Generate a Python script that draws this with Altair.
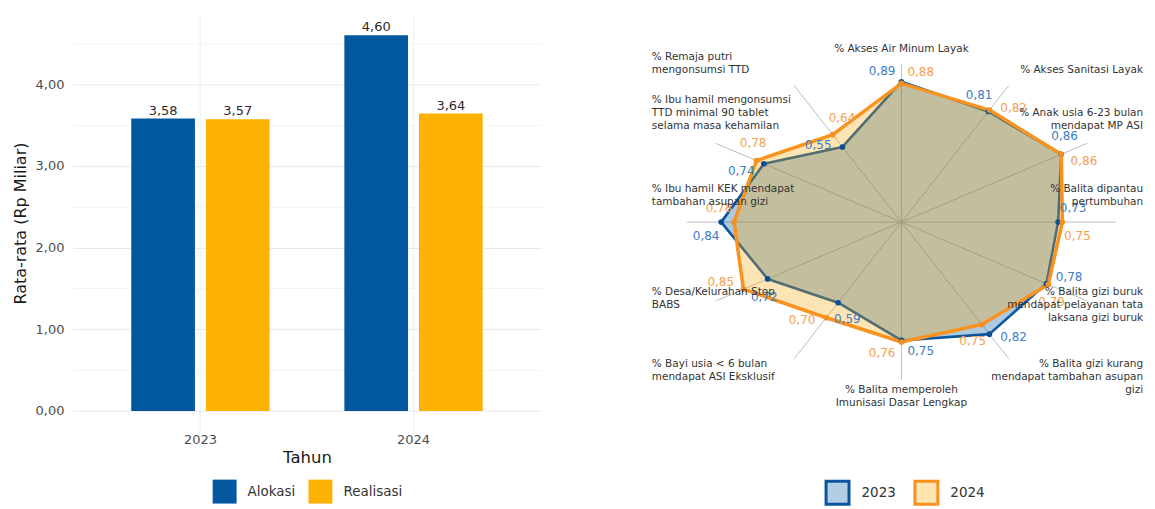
import altair as alt
import pandas as pd

FONT = "DejaVu Sans"

# ---------------- data: bar chart ----------------
years = ["2023", "2024"]
series = ["Alokasi", "Realisasi"]
alokasi = [3.58, 4.60]
realisasi = [3.57, 3.64]
y_ticks = [0, 0.5, 1.0, 1.5, 2.0, 2.5, 3.0, 3.5, 4.0, 4.5]

# ---------------- data: radar chart ----------------
indicators = [
    "% Akses Air Minum Layak",
    "% Akses Sanitasi Layak",
    "% Anak usia 6-23 bulan\nmendapat MP ASI",
    "% Balita dipantau\npertumbuhan",
    "% Balita gizi buruk\nmendapat pelayanan tata\nlaksana gizi buruk",
    "% Balita gizi kurang\nmendapat tambahan asupan\ngizi",
    "% Balita memperoleh\nImunisasi Dasar Lengkap",
    "% Bayi usia < 6 bulan\nmendapat ASI Eksklusif",
    "% Desa/Kelurahan Stop\nBABS",
    "% Ibu hamil KEK mendapat\ntambahan asupan gizi",
    "% Ibu hamil mengonsumsi\nTTD minimal 90 tablet\nselama masa kehamilan",
    "% Remaja putri\nmengonsumsi TTD",
]
nilai_2023 = [0.89, 0.81, 0.86, 0.73, 0.78, 0.82, 0.75, 0.59, 0.72, 0.84, 0.74, 0.55]
nilai_2024 = [0.88, 0.82, 0.86, 0.75, 0.79, 0.75, 0.76, 0.70, 0.85, 0.78, 0.78, 0.64]

# ---------------- tables ----------------
bar_rows = []
for i, t in enumerate(years):
    bar_rows.append({"tahun": t, "jenis": series[0], "nilai": alokasi[i]})
    bar_rows.append({"tahun": t, "jenis": series[1], "nilai": realisasi[i]})
bar_df = pd.DataFrame(bar_rows)

n = len(indicators)
radar_rows = []
for t, vals in zip(years, [nilai_2023, nilai_2024]):
    for k in range(n + 1):
        radar_rows.append({"tahun": t, "idx": k, "nilai": vals[k % n], "label": indicators[k % n]})
radar_df = pd.DataFrame(radar_rows)

# ---------------- bar chart ----------------
BLUE_BAR = "#02589E"
GOLD_BAR = "#FDB100"

x_bar = alt.X(
    "tahun:N", title="Tahun",
    scale=alt.Scale(paddingInner=0.351, paddingOuter=0.274),
    axis=alt.Axis(labelAngle=0, ticks=False, domain=False, grid=True, bandPosition=0.5,
                  gridColor="#ebebeb", gridWidth=1, labelFontSize=13, labelColor="#4d4d4d",
                  labelPadding=4, titleFontSize=16.5, titleColor="#1a1a1a",
                  titleFontWeight="normal", titlePadding=3, labelFont=FONT, titleFont=FONT),
)
xoff_bar = alt.XOffset("jenis:N", sort=series, scale=alt.Scale(paddingInner=0.147, paddingOuter=0))
y_bar = alt.Y(
    "nilai:Q", title="Rata-rata (Rp Miliar)",
    scale=alt.Scale(domain=[-0.23, 4.83], nice=False, zero=False),
    axis=alt.Axis(values=y_ticks, ticks=False, domain=False,
                  labelExpr="datum.value % 1 == 0 ? replace(format(datum.value, '.2f'), '.', ',') : ''",
                  gridColor={"condition": {"test": "datum.value % 1 == 0", "value": "#e9e9e9"},
                             "value": "#f4f4f4"},
                  labelFontSize=13, labelColor="#4d4d4d", labelPadding=9,
                  titleFontSize=16, titleColor="#1a1a1a", titleFontWeight="normal",
                  titlePadding=7, labelFont=FONT, titleFont=FONT),
)

bar_base = alt.Chart(bar_df).transform_calculate(
    lbl="replace(format(datum.nilai, '.2f'), '.', ',')"
)
bars = bar_base.mark_bar().encode(
    x=x_bar, xOffset=xoff_bar, y=y_bar, y2=alt.datum(0),
    color=alt.Color("jenis:N", sort=series,
                    scale=alt.Scale(domain=series, range=[BLUE_BAR, GOLD_BAR]),
                    legend=alt.Legend(title=None, orient="none", legendX=140, legendY=464,
                                      direction="horizontal", symbolType="square",
                                      symbolSize=576, symbolStrokeWidth=0,
                                      labelFontSize=13.5, labelColor="#333333", labelFont=FONT,
                                      labelOffset=11, columnPadding=13)),
)
bar_text = bar_base.mark_text(dy=-4, baseline="alphabetic", fontSize=13, color="#2b2b2b",
                              font=FONT).encode(
    x=x_bar, xOffset=xoff_bar, y=y_bar, text="lbl:N"
)
bar_chart = alt.layer(bars, bar_text).properties(width=469, height=414)

# ---------------- radar chart ----------------
BLUE_L = "#0B559F"
ORANGE_L = "#F7931E"
xs = alt.Scale(domain=[-1.1814, 1.1442], nice=False, zero=False)
ys = alt.Scale(domain=[-1.316, 1.304], nice=False, zero=False)

base = alt.Chart(radar_df).transform_calculate(
    ang="datum.idx * PI / 6",
    px="datum.nilai * sin(datum.ang)",
    py="datum.nilai * cos(datum.ang)",
    sx="sin(datum.ang)",
    sy="cos(datum.ang)",
    cx="0 * datum.nilai",
    nl="length(split(datum.label, '\\n'))",
)
X = alt.X("px:Q", scale=xs, axis=None)
Y = alt.Y("py:Q", scale=ys, axis=None)

spokes = base.transform_filter("datum.tahun == '2023' && datum.idx < 12").mark_rule(
    color="#bdbdbd", strokeWidth=1
).encode(
    x=alt.X("cx:Q", scale=xs, axis=None), y=alt.Y("cx:Q", scale=ys, axis=None),
    x2="sx:Q", y2="sy:Q",
)

def poly_fill(year, col, op):
    return base.transform_filter(f"datum.tahun == '{year}'").mark_line(
        filled=True, fill=col, fillOpacity=op, strokeWidth=0, interpolate="linear"
    ).encode(x=X, y=Y, order="idx:Q")

def poly_line(year, col, w):
    return base.transform_filter(f"datum.tahun == '{year}'").mark_line(
        color=col, strokeWidth=w, strokeJoin="round"
    ).encode(x=X, y=Y, order="idx:Q")

legend_radar = alt.Legend(title=None, orient="none", legendX=177, legendY=464,
                          direction="horizontal", symbolType="square", symbolSize=529,
                          symbolStrokeWidth=3, symbolOpacity=1, labelFontSize=13.5,
                          labelColor="#333333", labelFont=FONT, labelOffset=11, columnPadding=12)
legend_layer = base.transform_filter("datum.idx < 12").mark_square(
    size=2, strokeWidth=0.5, opacity=1
).encode(
    x=X, y=Y,
    fill=alt.Fill("tahun:N", scale=alt.Scale(domain=years, range=["#B3CDE4", "#FDE4B0"]),
                  legend=legend_radar),
    stroke=alt.Stroke("tahun:N", scale=alt.Scale(domain=years, range=[BLUE_L, ORANGE_L]),
                      legend=legend_radar),
)

def pts(year, col):
    return base.transform_filter(f"datum.tahun == '{year}' && datum.idx < 12").mark_circle(
        size=32, color=col, opacity=1
    ).encode(x=X, y=Y)

def vlabels(year, col, sgn):
    return base.transform_filter(f"datum.tahun == '{year}' && datum.idx < 12").transform_calculate(
        lx=f"(datum.nilai + 0.07) * sin(datum.ang) + ({sgn}) * 0.09 * cos(datum.ang)",
        ly=f"(datum.nilai + 0.07) * cos(datum.ang) - ({sgn}) * 0.09 * sin(datum.ang)",
        txt="replace(format(datum.nilai, '.2f'), '.', ',')",
    ).mark_text(fontSize=12, color=col, font=FONT, align="center", baseline="middle").encode(
        x=alt.X("lx:Q", scale=xs, axis=None), y=alt.Y("ly:Q", scale=ys, axis=None), text="txt:N"
    )

LINE_U = 13 / 158.0  # one text line in vertical data units

def cat_labels(cond, align, upper):
    if upper:
        # block bottom follows the spoke direction; first line is the anchor
        ly = f"0.97 * datum.sy + 0.095 + (datum.nl - 1) * {LINE_U}"
        baseline = "bottom"
    else:
        ly = "1.24 * datum.sy + 0.208"
        baseline = "top"
    return base.transform_filter("datum.tahun == '2023' && datum.idx < 12").transform_filter(
        cond
    ).transform_calculate(
        lx="abs(datum.sx) < 0.01 ? 0 : (datum.sx > 0 ? 1.126 : -1.163)",
        ly=ly,
    ).mark_text(fontSize=10.5, color="#333333", font=FONT, align=align, baseline=baseline,
                lineBreak="\n", lineHeight=13).encode(
        x=alt.X("lx:Q", scale=xs, axis=None), y=alt.Y("ly:Q", scale=ys, axis=None), text="label:N"
    )

cats = [
    cat_labels("abs(datum.sx) < 0.01 && datum.sy > 0", "center", True),
    cat_labels("abs(datum.sx) < 0.01 && datum.sy < 0", "center", False),
    cat_labels("datum.sx > 0.01 && datum.sy > -0.01", "right", True),
    cat_labels("datum.sx > 0.01 && datum.sy <= -0.01", "right", False),
    cat_labels("datum.sx < -0.01 && datum.sy > -0.01", "left", True),
    cat_labels("datum.sx < -0.01 && datum.sy <= -0.01", "left", False),
]

radar = alt.layer(
    spokes,
    poly_fill("2023", "#0057A0", 0.32),
    poly_line("2023", BLUE_L, 2.6),
    poly_fill("2024", "#F8A505", 0.30),
    poly_line("2024", ORANGE_L, 3.5),
    legend_layer,
    pts("2023", "#0A4F96"),
    pts("2024", "#F39020"),
    vlabels("2023", "#3A7DC4", -1),
    vlabels("2024", "#F5A04E", 1),
    *cats,
).properties(width=500, height=414)

chart = alt.hconcat(bar_chart, radar, spacing=107).resolve_scale(
    color="independent", fill="independent", stroke="independent"
).properties(
    padding={"left": 4, "top": 8, "right": 0, "bottom": 0},
    background="white",
).configure(font=FONT).configure_view(strokeWidth=0)

chart.save("out.html", embed_options={"renderer": "svg", "actions": False})
